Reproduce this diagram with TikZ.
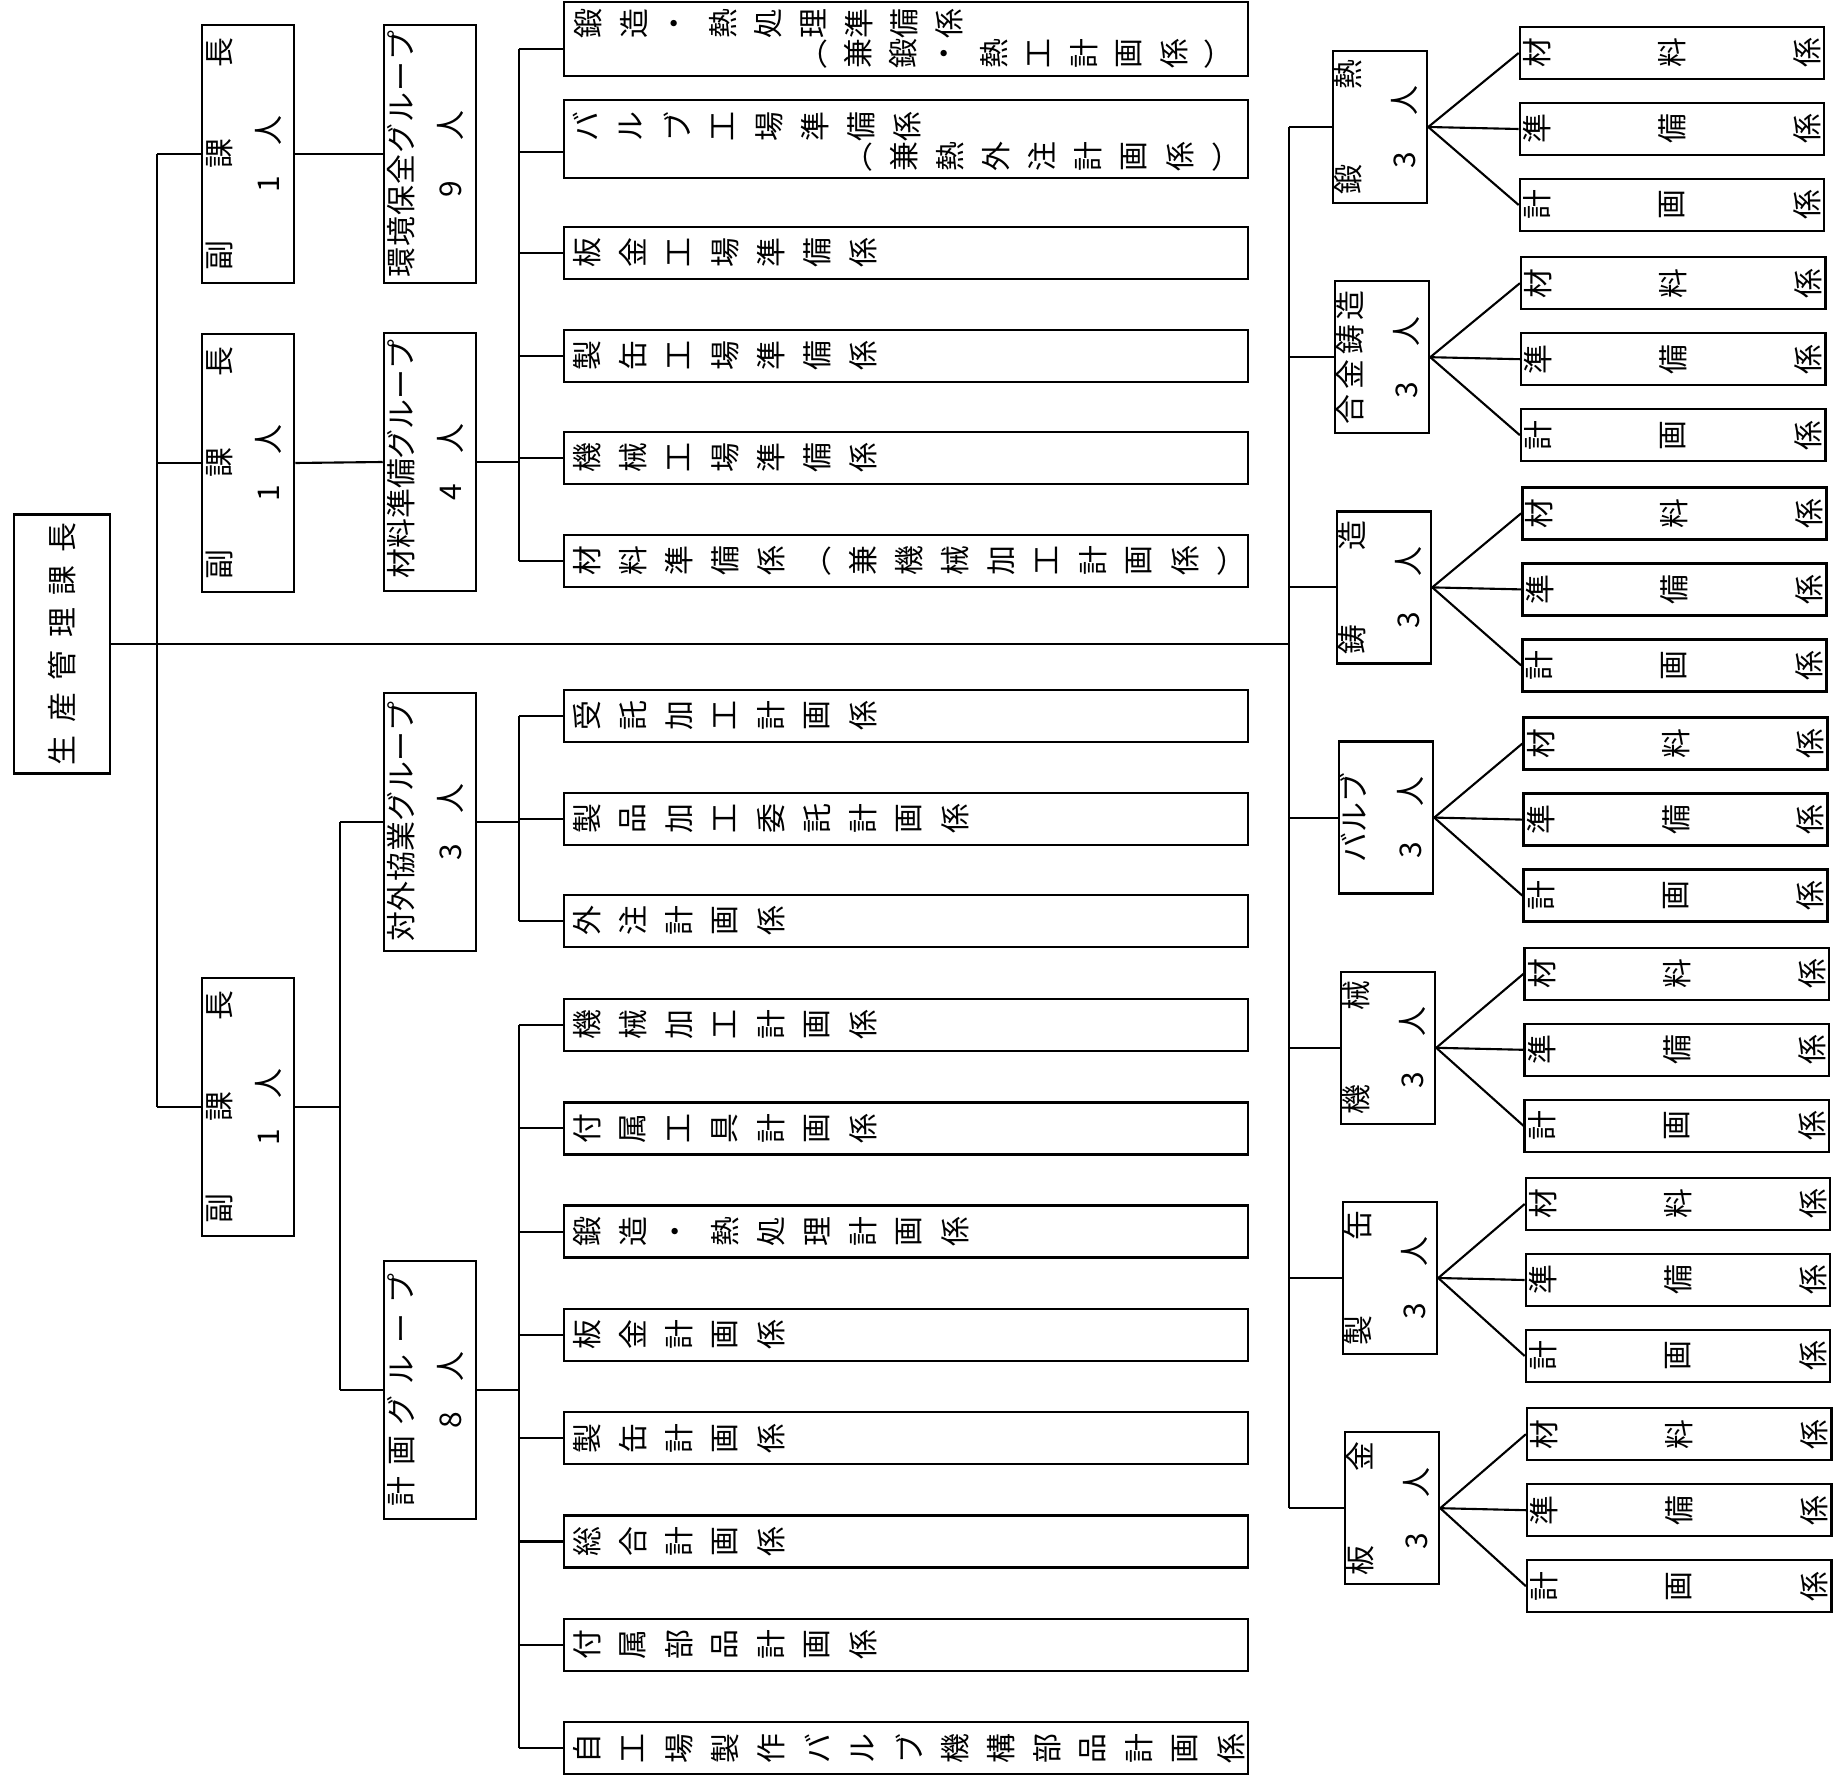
\documentclass[tikz,border=0pt]{standalone}
\usepackage{fontspec}
\setmainfont{Noto Sans CJK JP}
\usepackage{graphicx}
\usepackage{tikz}
\usetikzlibrary{positioning,calc}

\newcommand\jfont{\fontsize{8.5}{10}\selectfont}
\newlength\chsp
\setlength\chsp{0.46cm}
% one glyph after another, spread or turned
\def\spreadchars#1{\ifx#1\relax\else#1\hfill\expandafter\spreadchars\fi}
\def\rspreadchars#1{\ifx#1\relax\else\rotatebox{90}{#1}\hfill\expandafter\rspreadchars\fi}
\def\vcharsloop#1{\ifx#1\relax\else\vcell{#1}\expandafter\vcharsloop\fi}
\newcommand\vcell[1]{\makebox[\chsp]{\ifx#1（\raisebox{0.12em}{#1}\else\ifx#1）\raisebox{0.12em}{#1}\else\rotatebox{90}{#1}\fi\fi}}
\newcommand\spread[2]{\makebox[#1][s]{\expandafter\spreadchars#2\relax\unskip}}
\newcommand\rspread[2]{\makebox[#1][s]{\expandafter\rspreadchars#2\relax\unskip}}
\newcommand\vchars[1]{\expandafter\vcharsloop#1\relax}
\newcommand\twol[3][4pt]{\rotatebox{90}{\begin{tabular}{@{}c@{}}#2\\[#1]#3\end{tabular}}}

\tikzset{
  box/.style={draw, line width=0.7pt, inner sep=0pt, font=\jfont},
  tallbox/.style={box, minimum width=0.92cm, minimum height=2.58cm},
  longbox/.style={box, minimum width=6.84cm, minimum height=0.52cm},
  deptbox/.style={box, minimum width=0.94cm, minimum height=1.52cm},
  subbox/.style={box, minimum width=3.04cm, minimum height=0.52cm},
  txt/.style={inner sep=0pt, font=\jfont}
}

\begin{document}
\begin{tikzpicture}[x=0.01cm, y=-0.01cm, line width=0.6pt]
  \useasboundingbox[fill=white] (0,0) rectangle (1838,1785);

  \node[box, minimum width=0.96cm, minimum height=2.59cm] (root) at (62,644) {\rotatebox{90}{\spread{2.42cm}{生産管理課長}}};

  \node[tallbox] (fk1) at (248,154) {\twol{\spread{2.33cm}{副課長}}{\spread{0.77cm}{1人}}};
  \node[tallbox] (fk2) at (248,463) {\twol{\spread{2.33cm}{副課長}}{\spread{0.77cm}{1人}}};
  \node[tallbox] (fk3) at (248,1107) {\twol{\spread{2.33cm}{副課長}}{\spread{0.77cm}{1人}}};

  \node[tallbox] (gkankyo) at (430,154) {\twol{\spread{2.46cm}{環境保全グループ}}{\spread{0.87cm}{9人}}};
  \node[tallbox] (gzairyo) at (430,462) {\twol{\spread{2.33cm}{材料準備グループ}}{\spread{0.76cm}{4人}}};
  \node[tallbox] (gtaigai) at (430,822) {\twol{\spread{2.38cm}{対外協業グループ}}{\spread{0.76cm}{3人}}};
  \node[tallbox] (gkeikaku) at (430,1390) {\twol{\spread{2.33cm}{計画グループ}}{\spread{0.76cm}{8人}}};

  \coordinate (lbus) at (157,0);
  \coordinate (mbus) at (340,0);
  \coordinate (sbus) at (519,0);
  \coordinate (rbus) at (1289,0);

  % trunk and left side
  \draw (root.east) -- (rbus |- root.east);
  \draw (lbus |- fk1.west) -- (lbus |- fk3.west);
  \foreach \n in {fk1,fk2,fk3} \draw (lbus |- \n.west) -- (\n.west);
  \draw (fk1.east) -- (gkankyo.west);
  \draw (fk2.east) -- (gzairyo.west);
  \draw (fk3.east) -- (mbus |- fk3.east);
  \draw (mbus |- gtaigai.west) -- (mbus |- gkeikaku.west);
  \foreach \n in {gtaigai,gkeikaku} \draw (mbus |- \n.west) -- (\n.west);

  % 材料準備グループ
  \node[longbox, minimum height=0.74cm] (pA) at (906,39) {};
  \node[txt, anchor=west] (pA1) at (565,24) {\setlength\chsp{0.45cm}\vchars{鍛造・熱処理準備係}};
  \node[txt, anchor=west] (pA2) at (790,54) {\setlength\chsp{0.45cm}\vchars{（兼鍛・熱工計画係）}};
  \node[longbox, minimum height=0.78cm] (pB) at (906,139) {};
  \node[txt, anchor=west] (pB1) at (561,127) {\vchars{バルブ工場準備係}};
  \node[txt, anchor=west] (pB2) at (834,157) {\vchars{（兼熱外注計画係）}};
  \foreach \n/\lbl/\y in {pC/板金工場準備係/253, pD/製缶工場準備係/356, pE/機械工場準備係/458, pF/材料準備係（兼機械加工計画係）/561}
    \node[longbox] (\n) at (906,\y) {\makebox[6.84cm][l]{\vchars{\lbl}}};
  \coordinate (pAin) at ([yshift=-0.1cm]pA.west);
  \coordinate (pBin) at ([yshift=-0.13cm]pB.west);
  \draw (gzairyo.east) -- (sbus |- gzairyo.east);
  \draw (sbus |- pAin) -- (sbus |- pF.west);
  \foreach \n in {pAin,pBin,pC.west,pD.west,pE.west,pF.west} \draw (sbus |- \n) -- (\n);

  % 対外協業グループ
  \foreach \n/\lbl/\y in {tA/受託加工計画係/716, tB/製品加工委託計画係/819, tC/外注計画係/921}
    \node[longbox] (\n) at (906,\y) {\makebox[6.84cm][l]{\vchars{\lbl}}};
  \draw (gtaigai.east) -- (sbus |- gtaigai.east);
  \draw (sbus |- tA.west) -- (sbus |- tC.west);
  \foreach \n in {tA,tB,tC} \draw (sbus |- \n.west) -- (\n.west);

  % 計画グループ
  \foreach \lbl [count=\i from 0] in {機械加工計画係, 付属工具計画係, 鍛造・熱処理計画係, 板金計画係, 製缶計画係, 総合計画係, 付属部品計画係, 自工場製作バルブ機構部品計画係}
    \node[longbox] (k\i) at (906,1025+103.3*\i) {\makebox[6.84cm][l]{\vchars{\lbl}}};
  \draw (gkeikaku.east) -- (sbus |- gkeikaku.east);
  \draw (sbus |- k0.west) -- (sbus |- k7.west);
  \foreach \i in {0,...,7} \draw (sbus |- k\i.west) -- (k\i.west);

  % right side
  \foreach \nm/\lab/\w [count=\i from 0] in {tan/鍛熱/1.34cm, gokin/合金鋳造/1.34cm, chuzo/鋳造/1.34cm, valve/バルブ/0.9cm, kikai/機械/1.34cm, seikan/製缶/1.34cm, bankin/板金/1.34cm} {
    \node[deptbox] (\nm) at (1380+2*\i,127+230.2*\i) {\twol[6pt]{\spread{\w}{\lab}}{\spread{0.82cm}{3人}}};
    \draw (rbus |- \nm.west) -- (\nm.west);
    \foreach \s/\sub [count=\j from 0] in {a/材料係, b/準備係, c/計画係} {
      \node[subbox] (\nm\s) at (1672+1.2*\i,53+230.2*\i+76*\j) {\rspread{2.97cm}{\sub}};
      \draw (\nm.east) -- (\nm\s.west);
    }
  }
  \draw (rbus |- tan.west) -- (rbus |- bankin.west);
\end{tikzpicture}
\end{document}
